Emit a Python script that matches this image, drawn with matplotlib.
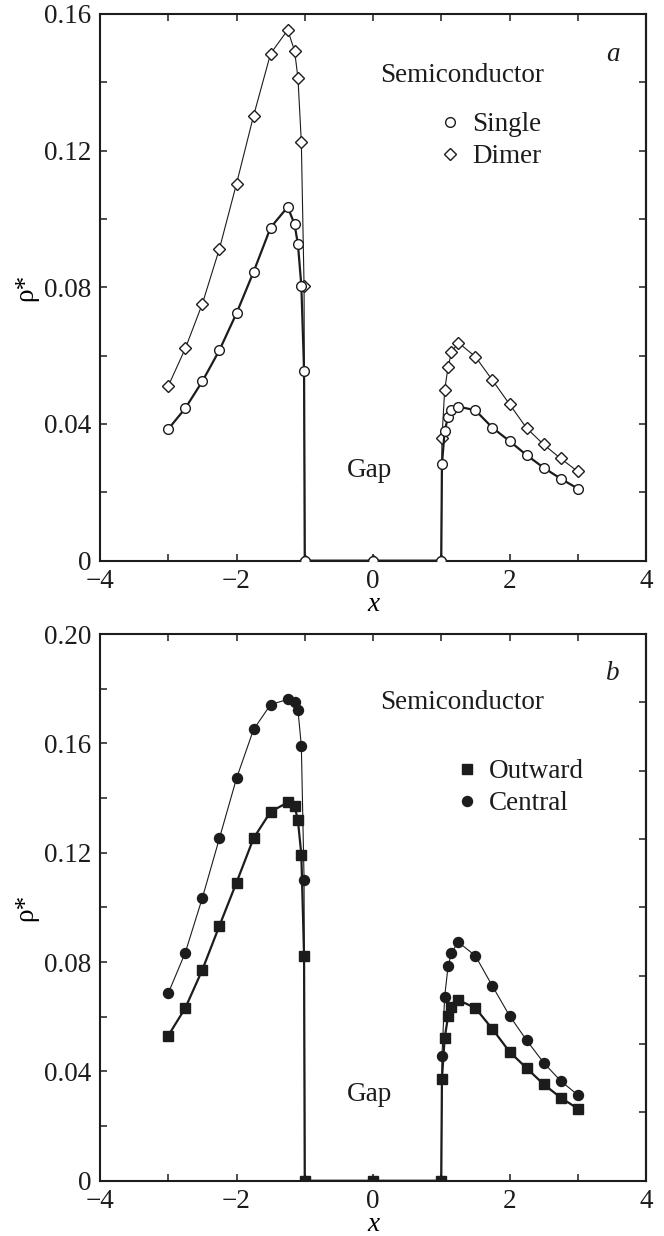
import matplotlib

matplotlib.use("Agg")

import matplotlib.pyplot as plt
from matplotlib.lines import Line2D
from matplotlib.ticker import MultipleLocator, NullFormatter

# common grid of x positions (both panels)
x_grid = [-3, -2.75, -2.5, -2.25, -2, -1.75, -1.5, -1.25, -1.15, -1.1, -1.05, -1.01,
          -1.0, 0.0, 1.0,
          1.01, 1.05, 1.1, 1.15, 1.25, 1.5, 1.75, 2, 2.25, 2.5, 2.75, 3]

# panel a
rho_single = [0.0385, 0.0446, 0.0525, 0.0616, 0.0724, 0.0845, 0.0975, 0.1035, 0.0985, 0.0926, 0.0805, 0.0556,
              0.0, 0.0, 0.0,
              0.0282, 0.0380, 0.0420, 0.0441, 0.0451, 0.0440, 0.0389, 0.0350, 0.0309, 0.0272, 0.0240, 0.0211]
rho_dimer = [0.0511, 0.0621, 0.0752, 0.0913, 0.1103, 0.1302, 0.1484, 0.1553, 0.1493, 0.1414, 0.1224, 0.0803,
             0.0, 0.0, 0.0,
             0.0358, 0.0499, 0.0567, 0.0610, 0.0638, 0.0597, 0.0528, 0.0458, 0.0388, 0.0340, 0.0299, 0.0261]

# panel b
rho_outward = [0.0531, 0.0632, 0.0772, 0.0933, 0.1091, 0.1253, 0.1350, 0.1384, 0.1372, 0.1318, 0.1193, 0.0822,
               0.0, 0.0, 0.0,
               0.0372, 0.0523, 0.0601, 0.0635, 0.0661, 0.0632, 0.0555, 0.0472, 0.0412, 0.0353, 0.0304, 0.0264]
rho_central = [0.0686, 0.0835, 0.1035, 0.1253, 0.1472, 0.1651, 0.1742, 0.1761, 0.1753, 0.1723, 0.1591, 0.1102,
               0.0, 0.0, 0.0,
               0.0455, 0.0674, 0.0784, 0.0835, 0.0873, 0.0823, 0.0712, 0.0604, 0.0514, 0.0432, 0.0365, 0.0314]

INK = "#1c1c1c"
FS = 19.5

plt.rcParams.update(
    {
        "font.family": "serif",
        "font.serif": ["Liberation Serif", "DejaVu Serif"],
        "font.size": FS,
        "axes.linewidth": 1.5,
        "axes.edgecolor": INK,
        "text.color": INK,
        "xtick.color": INK,
        "ytick.color": INK,
    }
)


def style_axes(ax, ymax, ymajor, right_minor):
    ax.set_xlim(-4, 4)
    ax.set_ylim(0, ymax)
    ax.xaxis.set_minor_locator(MultipleLocator(1))
    ax.yaxis.set_minor_locator(MultipleLocator(ymajor / 2))
    ax.tick_params(which="both", direction="in", top=True, right=False, length=5, width=1.1, pad=6)
    ax.set_xticks([-4, -2, 0, 2, 4])
    ax.set_xticklabels(["\u22124", "\u22122", "0", "2", "4"])
    yt = [round(i * ymajor, 3) for i in range(int(round(ymax / ymajor)) + 1)]
    ax.set_yticks(yt)
    ax.set_yticklabels(["0" if v == 0 else f"{v:.2f}" for v in yt])
    # right-hand ticks (panel b uses a different spacing there)
    sec = ax.secondary_yaxis("right")
    sec.yaxis.set_major_locator(MultipleLocator(right_minor))
    sec.yaxis.set_major_formatter(NullFormatter())
    sec.tick_params(direction="in", length=5, width=1.1)
    sec.spines["right"].set_linewidth(1.5)
    ax.set_xlabel("x", style="italic", labelpad=-1.5)
    ax.set_ylabel("\u03c1*", labelpad=4)


def marker_legend(ax, entries, anchor):
    handles = [Line2D([], [], linestyle="none", marker=m, markersize=ms, markerfacecolor=fc,
                      markeredgecolor=INK, markeredgewidth=1.0, label=lab)
               for lab, m, ms, fc in entries]
    ax.legend(handles=handles, loc="center left", bbox_to_anchor=anchor, frameon=False, numpoints=1,
              handlelength=1.0, handletextpad=0.3, labelspacing=0.25, fontsize=FS)


fig = plt.figure(figsize=(6.64, 12.36), dpi=100)
ax_a = fig.add_axes([0.1506, 0.5464, 0.8223, 0.4423])
ax_b = fig.add_axes([0.1506, 0.0447, 0.8223, 0.4423])

# panel a
ax_a.plot(x_grid, rho_single, color=INK, linewidth=1.6, marker="o", markersize=7.0,
          markerfacecolor="white", markeredgecolor=INK, markeredgewidth=1.0, zorder=3)
ax_a.plot(x_grid, rho_dimer, color=INK, linewidth=0.8, marker="D", markersize=6.3,
          markerfacecolor="white", markeredgecolor=INK, markeredgewidth=1.0, zorder=2)
style_axes(ax_a, 0.16, 0.04, 0.02)
ax_a.text(1.30, 0.1420, "Semiconductor", ha="center", va="center")
ax_a.text(-0.05, 0.0265, "Gap", ha="center", va="center")
ax_a.text(3.52, 0.148, "a", ha="center", va="center", style="italic")
marker_legend(ax_a, [("Single", "o", 7.0, "white"), ("Dimer", "D", 6.3, "white")], (0.572, 0.768))

# panel b
ax_b.plot(x_grid, rho_outward, color=INK, linewidth=1.6, marker="s", markersize=7.0,
          markerfacecolor=INK, markeredgecolor=INK, zorder=3)
ax_b.plot(x_grid, rho_central, color=INK, linewidth=0.8, marker="o", markersize=7.2,
          markerfacecolor=INK, markeredgecolor=INK, zorder=2)
style_axes(ax_b, 0.20, 0.04, 0.025)
ax_b.text(1.30, 0.1749, "Semiconductor", ha="center", va="center")
ax_b.text(-0.05, 0.0314, "Gap", ha="center", va="center")
ax_b.text(3.52, 0.1854, "b", ha="center", va="center", style="italic")
marker_legend(ax_b, [("Outward", "s", 7.0, INK), ("Central", "o", 7.2, INK)], (0.603, 0.719))

fig.savefig("out.png", dpi=100)
plt.close(fig)
